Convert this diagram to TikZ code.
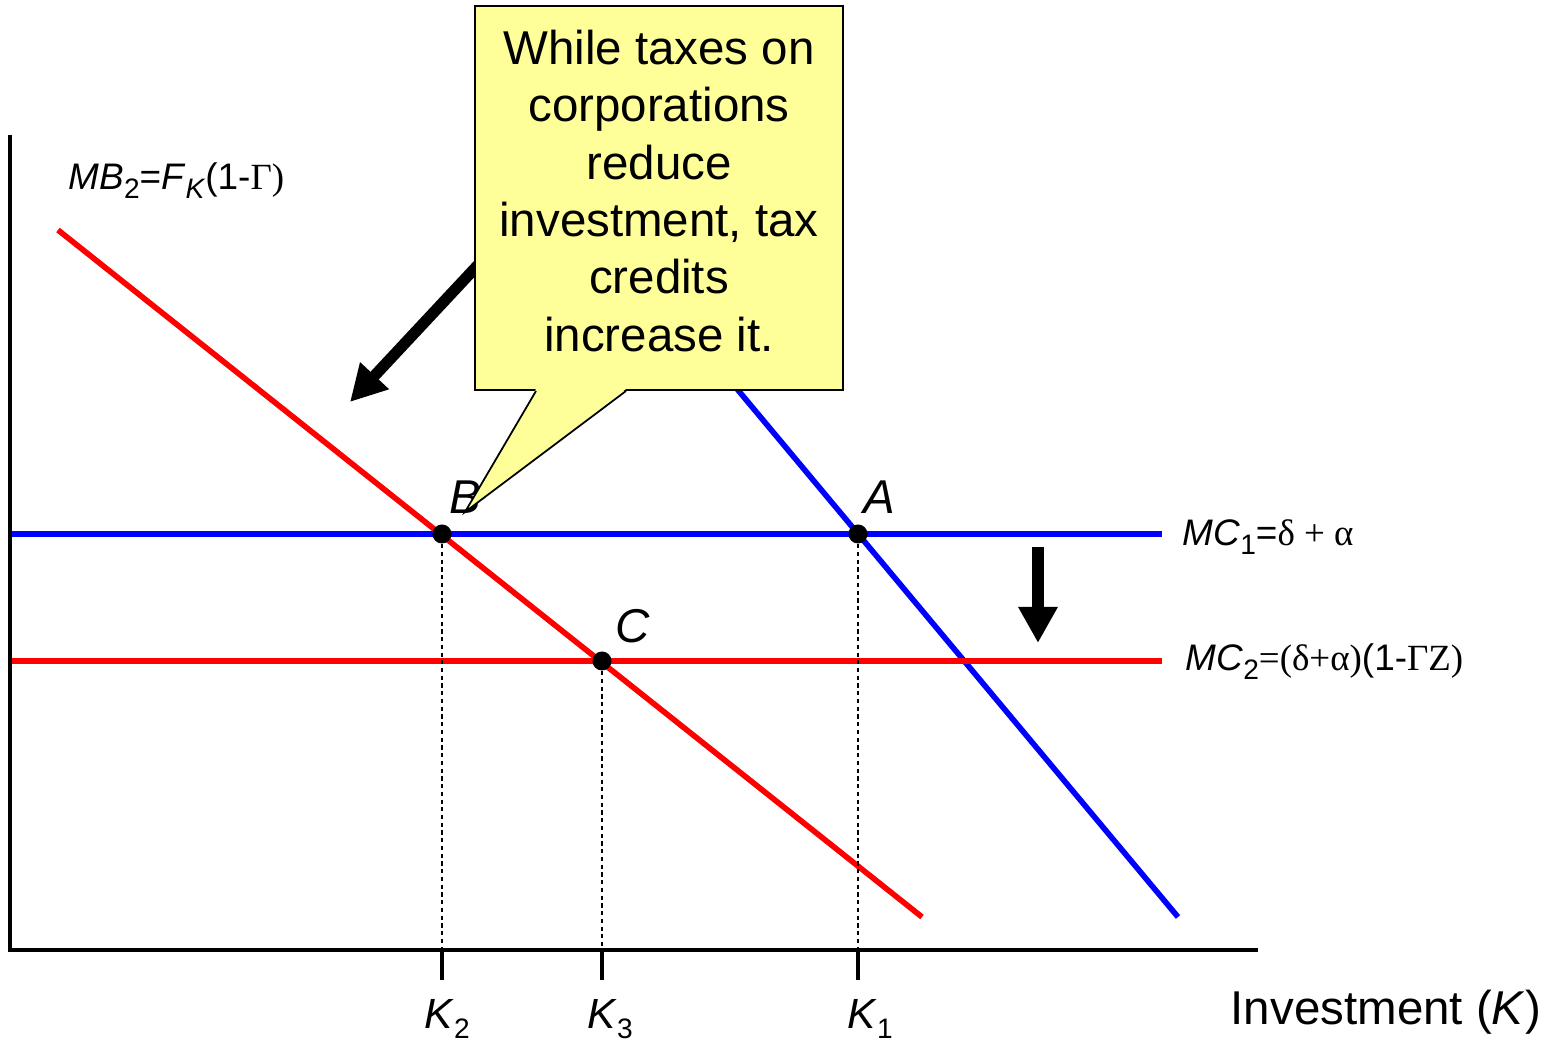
\documentclass[tikz,border=0pt]{standalone}
\usepackage{fontspec}
\setmainfont{Liberation Sans}
\newfontfamily\grk{Liberation Serif}
\usepackage{tikz}
\usetikzlibrary{arrows.meta, positioning, calc}
\definecolor{notefill}{RGB}{255,255,153}
\newcommand{\lowsub}[1]{\raisebox{-0.45ex}{\fontsize{8}{8}\selectfont #1}}

\begin{document}
\begin{tikzpicture}[x=0.01cm,y=-0.01cm]
 \tikzstyle{curve}=[line width=1.6pt]
 \tikzstyle{axisline}=[line width=1.2pt,black]
 \tikzstyle{guide}=[dashed,dash pattern=on 1.2pt off 1pt,line width=0.35pt]
 \tikzstyle{tickmark}=[line width=0.9pt]
 \tikzstyle{dot}=[circle,fill=black,inner sep=0pt,minimum size=0.19cm]
 \tikzstyle{ptlabel}=[font=\fontsize{13.5}{16}\selectfont\itshape,inner sep=0pt]
 \tikzstyle{klabel}=[font=\fontsize{12}{14}\selectfont,inner sep=0pt]
 \tikzstyle{eqlabel}=[font=\fontsize{10.5}{13}\selectfont,inner sep=0pt,anchor=west]
 \tikzstyle{shiftarrow}=[-{Triangle[length=0.36cm,width=0.37cm]},line width=3.2pt]
 \tikzstyle{notebox}=[rectangle,draw=black,line width=0.5pt,fill=notefill,
   minimum width=3.68cm,minimum height=3.84cm]
 \tikzstyle{notetext}=[align=center,inner sep=0pt,
   font=\fontsize{13.5}{16.3}\selectfont]
 \useasboundingbox (0,0) rectangle (1559,1040);

 \coordinate (origin) at (10,950);
 \coordinate (ytop) at (10,135);
 \coordinate (xend) at (1258,950);
 \coordinate (mbone top) at (621,250);
 \coordinate (mbone end) at (1178,917);
 \coordinate (mbtwo top) at (58,230);
 \coordinate (mbtwo end) at (922,917);
 \coordinate (mcone end) at (1162,534);
 \coordinate (mctwo end) at (1162,661);

 \draw[curve,blue] (origin |- mcone end) -- (mcone end);
 \draw[curve,blue] (mbone top) -- (mbone end);
 \draw[curve,red] (origin |- mctwo end) -- (mctwo end);
 \draw[curve,red] (mbtwo top) -- (mbtwo end);

 \node (B) [dot] at (442,534) {};
 \node (C) [dot] at (602,661) {};
 \node (A) [dot] at (858,534) {};
 \foreach \p/\k in {B/2, C/3, A/1} {
   \draw[guide] (\p) -- (\p |- origin);
   \draw[tickmark] (\p |- origin) -- ++(0,30) coordinate (tick\p);
 }
 \node (k2) [klabel] at (447,1019) {\textit{K}\lowsub{2}};
 \node (k3) [klabel] at (610,1019) {\textit{K}\lowsub{3}};
 \node (k1) [klabel] at (870,1019) {\textit{K}\lowsub{1}};

 \draw[axisline] (ytop) -- (origin) -- (xend);
 \node (xlabel) [font=\fontsize{13.5}{16}\selectfont,inner sep=0pt] at (1386,1012)
   {Investment (\textit{K})};

 \node (labB) [ptlabel] at (465,497) {B};
 \node (labA) [ptlabel] at (879,497) {A};
 \node (labC) [ptlabel] at (633,626) {C};

 \node (mbtwo) [eqlabel] at (68,181)
   {\textit{MB}\lowsub{2}=\textit{F}\lowsub{\textit{K}}(1-{\grk Γ)}};
 \node (mcone) [eqlabel] at (1182,537)
   {\textit{MC}\lowsub{1}={\grk δ + α}};
 \node (mctwo) [eqlabel] at (1185,662)
   {\textit{MC}\lowsub{2}{\grk =(δ+α)}(1-{\grk ΓZ)}};

 \coordinate (arrow tail) at (478,265);
 \coordinate (arrow tip) at (350,402);
 \draw[shiftarrow] (arrow tail) -- (arrow tip);
 \coordinate (drop top) at (1038,547);
 \coordinate (drop tip) at (1038,643);
 \draw[shiftarrow] (drop top) -- (drop tip);

 \node (note) [notebox] at (659,198) {};
 \node (notebody) [notetext] at ($(note.center)+(0,-7)$)
   {While taxes on\\corporations\\reduce\\investment, tax\\credits\\increase it.};
 \coordinate (pointer tip) at (465,512);
 \fill[notefill] ($(note.south west)+(62,-2)$) -- (pointer tip)
   -- ($(note.south west)+(152,-2)$) -- cycle;
 \draw[line width=0.5pt] ($(note.south west)+(62,0)$) -- (pointer tip)
   -- ($(note.south west)+(152,0)$);
\end{tikzpicture}
\end{document}
